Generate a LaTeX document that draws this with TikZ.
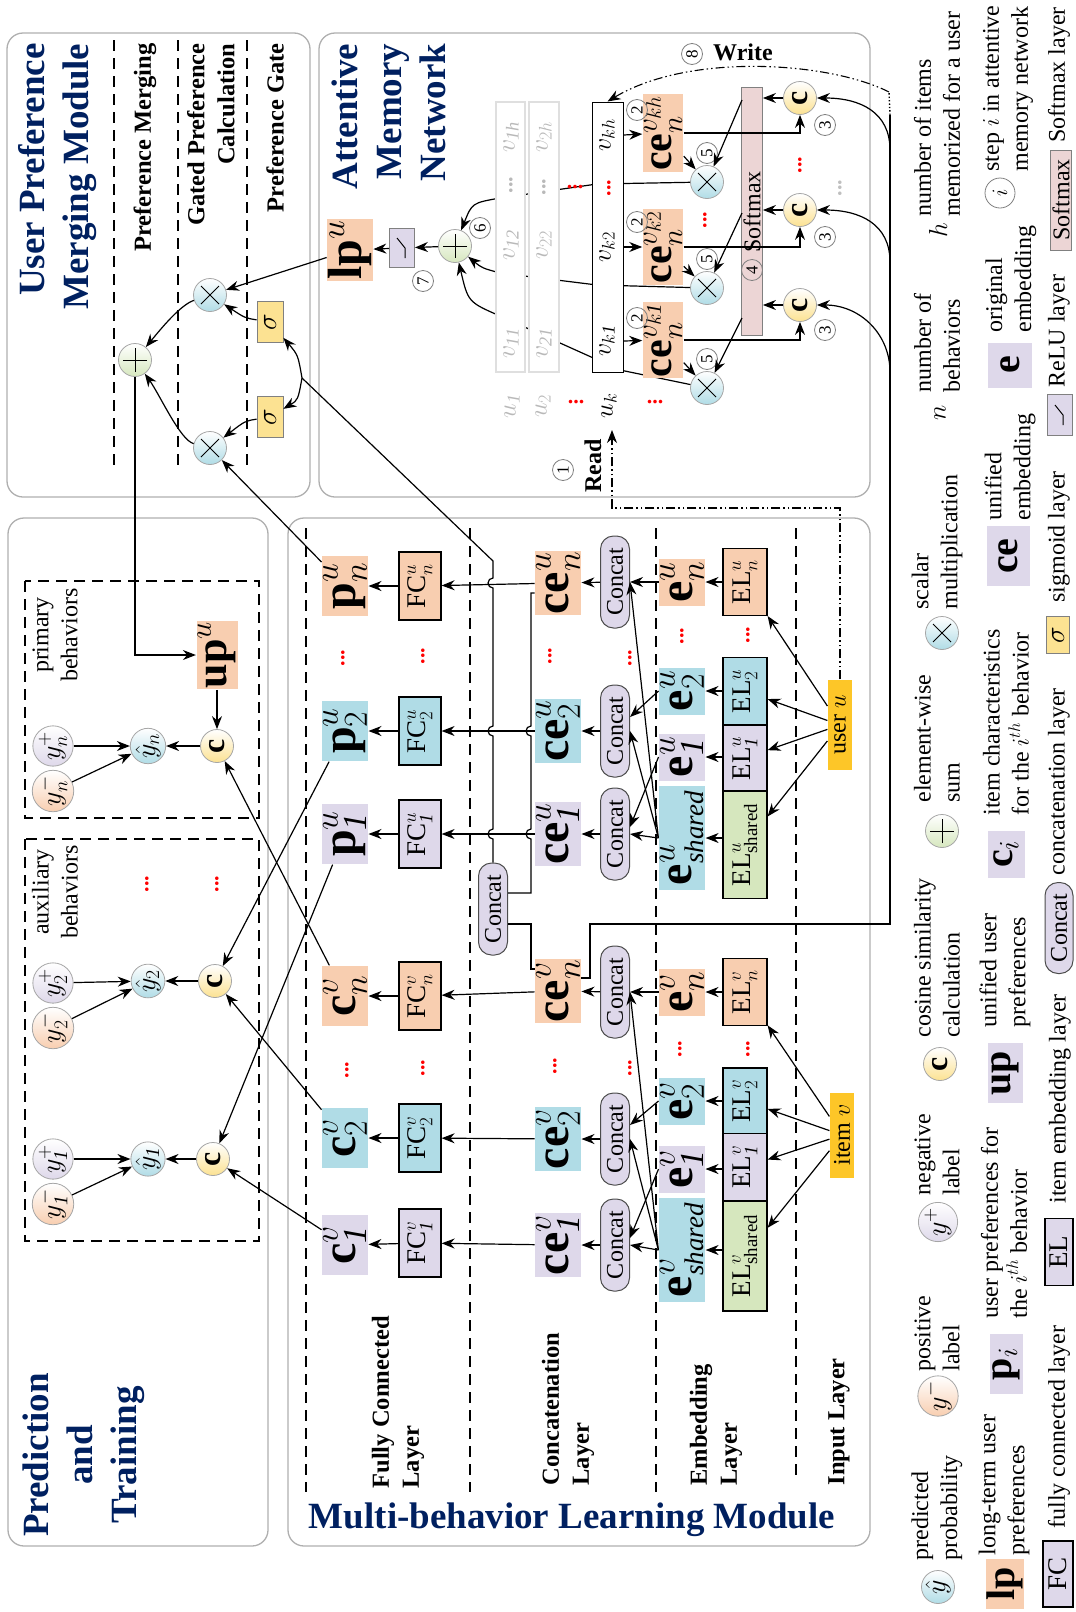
\RequirePackage{fix-cm}
\documentclass[tikz,border=0pt]{standalone}
\usepackage{fontspec}
\setmainfont{Liberation Serif}
\usetikzlibrary{arrows.meta}

\definecolor{navy}{RGB}{0,32,96}
\definecolor{peach}{RGB}{248,206,176}
\definecolor{aqua}{RGB}{176,220,230}
\definecolor{lilac}{RGB}{222,216,234}
\definecolor{leaf}{RGB}{214,231,190}
\definecolor{gold}{RGB}{253,198,40}
\definecolor{sand}{RGB}{252,226,146}
\definecolor{rose}{RGB}{236,213,213}
\definecolor{frame}{RGB}{175,175,175}

\newcommand{\titlefont}{\fontsize{37}{44}\selectfont\bfseries}
\newcommand{\layerfont}{\fontsize{24.5}{30}\selectfont\bfseries}
\newcommand{\vecfont}{\fontsize{48}{48}\selectfont}
\newcommand{\memvecfont}{\fontsize{42}{42}\selectfont}
\newcommand{\legvecfont}{\fontsize{40}{40}\selectfont}
\newcommand{\boxfont}{\fontsize{27}{27}\selectfont}
\newcommand{\legfont}{\fontsize{24}{29}\selectfont}
\newcommand{\midfont}{\fontsize{24}{24}\selectfont}
\newcommand{\numfont}{\fontsize{17}{17}\selectfont}
\newcommand{\sharedsub}{\mbox{\fontsize{27}{27}\selectfont\itshape shared}}

\begin{document}
\begin{tikzpicture}[x=1pt, y=-1pt, line width=1.2pt, >={Stealth[length=13pt,width=10pt]},
  every node/.style={rotate=90},
  upright/.style={rotate=-90},
  panel/.style={draw=frame, line width=1.3pt, rounded corners=16pt},
  layersep/.style={dash pattern=on 11pt off 7pt, line width=1.1pt},
  rwpath/.style={dash pattern=on 9pt off 3pt on 1.5pt off 3pt on 1.5pt off 3pt, line width=1.1pt},
  title/.style={font=\titlefont, text=navy, inner sep=0pt},
  laylab/.style={font=\layerfont, inner sep=0pt},
  grp/.style={font=\legfont, align=center, inner sep=0pt},
  leg/.style={font=\legfont, inner sep=0pt, anchor=west, align=left},
  vec/.style={fill=#1, inner sep=1pt, font=\vecfont, minimum width=60pt, minimum height=34pt},
  fcbox/.style={draw, line width=1.2pt, fill=#1, minimum width=68pt, minimum height=42pt, inner sep=1pt, font=\boxfont},
  ccat/.style={draw=black!70, line width=1pt, fill=lilac, rounded corners=13pt, minimum width=92pt, minimum height=29pt, inner sep=0pt, font=\midfont},
  sig/.style={draw=gray, line width=0.8pt, fill=sand, minimum width=41pt, minimum height=26pt, inner sep=0pt, font=\fontsize{28}{28}\selectfont},
  bubble/.style={circle, draw=gray!70, line width=0.8pt, inner sep=0pt, minimum size=33pt, top color=white, bottom color=#1, font=\fontsize{28}{28}\selectfont},
  cosnode/.style={bubble=sand, font=\fontsize{32}{32}\selectfont\bfseries},
  opmul/.style={bubble=aqua, path picture={\draw[black, line width=1pt] ([shift={(-9pt,-9pt)}]path picture bounding box.center) -- ++(18pt,18pt) ([shift={(-9pt,9pt)}]path picture bounding box.center) -- ++(18pt,-18pt);}},
  opadd/.style={bubble=leaf, path picture={\draw[black, line width=1pt] ([shift={(-12pt,0pt)}]path picture bounding box.center) -- ++(24pt,0pt) ([shift={(0pt,-12pt)}]path picture bounding box.center) -- ++(0pt,24pt);}},
  stepnum/.style={circle, draw=gray, line width=0.8pt, inner sep=0pt, minimum size=21pt, font=\numfont},
  memcol/.style={fill=white, minimum width=270pt, minimum height=29pt, inner sep=0pt},
  memlab/.style={font=\fontsize{26}{26}\selectfont, inner sep=0pt},
  inbox/.style={fill=gold, minimum height=24pt, inner sep=1pt, font=\midfont},
  reddot/.style={text=red, font=\fontsize{22}{22}\selectfont\bfseries, inner sep=0pt},
  relu/.style={draw=gray, line width=0.8pt, fill=lilac, minimum width=39pt, minimum height=25pt, inner sep=0pt},
  smaxbox/.style={draw=gray, line width=0.8pt, fill=rose, minimum height=21pt, inner sep=0pt}]

\useasboundingbox (0,0) rectangle (1076,1612);

% panels
\draw[panel] (7,33) rectangle (310,497);
\draw[panel] (319,33) rectangle (870,497);
\draw[panel] (8,518) rectangle (268,1546);
\draw[panel] (288,518) rectangle (870,1546);

%%% User Preference Merging Module
\node[title, align=right, anchor=east] (tupm) at (58,43) {User Preference\\Merging Module};
\foreach \x in {114,178,247} \draw[layersep] (\x,40) -- (\x,470);
\node[laylab, anchor=east] (lmerge) at (145,43) {Preference Merging};
\node[laylab, anchor=east, align=right] (lgated) at (211,43) {Gated Preference\\Calculation};
\node[laylab, anchor=east] (lgate) at (275,43) {Preference Gate};

\node[opadd] (addu) at (135,360) {};
\node[opmul] (mulu) at (210,295) {};
\node[opmul] (mull) at (210,448) {};
\node[sig] (sigu) at (270,322) {$\sigma$};
\node[sig] (sigl) at (270,417) {$\sigma$};
\coordinate (br) at (302,378);

\draw[->] (mulu) .. controls (180,305) and (160,330) .. (addu);
\draw[->] (mull) .. controls (180,440) and (160,395) .. (addu);
\draw[->] (sigu) .. controls (245,318) .. (mulu);
\draw[->] (sigl) .. controls (245,421) .. (mull);
\draw[->] (br) .. controls (298,355) .. (sigu);
\draw[->] (br) .. controls (298,400) .. (sigl);

%%% Attentive Memory Network
\node[title, align=right, anchor=east] (tamn) at (389,43) {Attentive\\Memory\\Network};
\node[vec=peach, minimum width=54pt, minimum height=44pt] (lpu) at (350,250) {\textbf{lp}$^{u}$};
\node[relu] (relu) at (402,248) {};
\draw[line width=1pt] ([shift={(3,10)}]relu.center) -- ++(0,-10) -- ++(-8,-10);
\node[opadd] (addm) at (455,246) {};
\node[stepnum] (s6) at (480,228) {6};
\node[stepnum] (s7) at (423,281) {7};

\node[opmul] (mulh) at (707,182) {};
\node[opmul] (mul2) at (707,288) {};
\node[opmul] (mul1) at (707,388) {};

% weighted memory slots to the sum
\draw[->] (mulh) -- (597,184) -- (500,198) .. controls (472,203) .. (addm);
\draw[->] (mul2) -- (597,285) -- (500,273) .. controls (482,268) .. (addm);
\draw[->] (mul1) -- (620,370) -- (500,316) .. controls (468,302) .. (addm);

\node[memcol, draw=gray!25] (col1) at (510.5,237) {};
\node[memcol, draw=gray!25, minimum height=30pt] (col2) at (544,237) {};
\node[memcol, draw=black, line width=1pt, minimum height=31pt] (colk) at (607.5,237) {};
\node[memlab, text=gray!55] (v11) at (511,343) {$v_{\mathit{11}}$};
\node[memlab, text=gray!55] (v12) at (511,245) {$v_{\mathit{12}}$};
\node[reddot, text=gray!55] (d1) at (511,185) {...};
\node[memlab, text=gray!55] (v1h) at (511,137) {$v_{\mathit{1h}}$};
\node[memlab, text=gray!55] (v21) at (544,343) {$v_{\mathit{21}}$};
\node[memlab, text=gray!55] (v22) at (544,245) {$v_{22}$};
\node[reddot, text=gray!55] (d2) at (544,187) {...};
\node[memlab, text=gray!55] (v2h) at (544,137) {$v_{2h}$};
\node[memlab] (vk1) at (607,341) {$v_{k\mathit{1}}$};
\node[memlab] (vk2) at (607,247) {$v_{k2}$};
\node[reddot] (dk) at (609,188) {...};
\node[memlab] (vkh) at (607,135) {$v_{kh}$};
\node[reddot, upright] (dc) at (575,187) {...};
\node[memlab, text=gray!55] (u1) at (512,406) {$u_{\mathit{1}}$};
\node[memlab, text=gray!55] (u2) at (543,406) {$u_{2}$};
\node[reddot, upright] (du) at (576,402) {...};
\node[memlab] (uk) at (609,406) {$u_{k}$};
\node[reddot, upright] (dm) at (655,402) {...};

\node[vec=peach, font=\memvecfont, minimum width=67pt, minimum height=30pt] (ceh) at (663,133) {\textbf{ce}$^{v_{kh}}_{n}$};
\node[vec=peach, font=\memvecfont, minimum width=67pt, minimum height=30pt] (ce2) at (663,247) {\textbf{ce}$^{v_{k2}}_{n}$};
\node[vec=peach, font=\memvecfont, minimum width=67pt, minimum height=30pt] (ce1) at (663,340) {\textbf{ce}$^{v_{k\mathit{1}}}_{n}$};
\node[stepnum] (s2h) at (637,110) {2};
\node[stepnum] (s22) at (637,222) {2};
\node[stepnum] (s21) at (637,318) {2};
\node[stepnum] (s5h) at (707,153) {5};
\node[stepnum] (s52) at (707,259) {5};
\node[stepnum] (s51) at (707,359) {5};
\node[reddot] (dmul) at (705,220) {...};

\node[smaxbox, minimum width=248pt] (smax) at (752,211) {};
\node[font=\midfont, inner sep=0pt] (smaxt) at (752,212) {Softmax};
\node[stepnum] (s4) at (752,270) {4};
\coordinate (sm3) at (742,100);
\coordinate (sm2) at (742,213);
\coordinate (sm1) at (742,318);

\node[cosnode] (cosh) at (800,98) {c};
\node[cosnode] (cos2) at (800,210) {c};
\node[cosnode] (cos1) at (800,305) {c};
\node[stepnum] (s3h) at (825,125) {3};
\node[stepnum] (s32) at (825,237) {3};
\node[stepnum] (s31) at (825,330) {3};
\node[reddot] (dcos) at (800,165) {...};
\node[reddot, text=gray!50] (dq) at (840,188) {...};

\draw[->] (vkh -| colk.south) -- (ceh);
\draw[->] (vk2 -| colk.south) -- (ce2);
\draw[->] (vk1 -| colk.south) -- (ce1);
\draw[->] (ceh) -- (mulh);
\draw[->] (ce2) -- (mul2);
\draw[->] (ce1) -- (mul1);
\draw[->] (sm3) -- (mulh);
\draw[->] (sm2) -- (mul2);
\draw[->] (sm1) -- (mul1);
\draw[->] (ceh) -| (cosh);
\draw[->] (ce2) -| (cos2);
\draw[->] (ce1) -| (cos1);
\draw[->] (cosh) -- (cosh -| smax.south);
\draw[->] (cos2) -- (cos2 -| smax.south);
\draw[->] (cos1) -- (cos1 -| smax.south);
\draw[->] (addm) -- (relu);
\draw[->] (relu) -- (lpu);
\draw[->] (lpu) -- (mulu);

% query line from the item side
\coordinate (qtop) at (890,115);
\coordinate (qbot) at (890,924);
\coordinate (q3) at (890,150);
\coordinate (q2) at (890,262);
\coordinate (q1) at (890,372);
\coordinate (wr) at (889,92);
\draw[->] (q3) .. controls (890,112) and (860,98) .. (cosh);
\draw[->] (q2) .. controls (890,224) and (860,210) .. (cos2);
\draw[->] (q1) .. controls (890,334) and (860,305) .. (cos1);
\draw[dotted, line width=1.4pt] (qtop) -- (wr);
\draw[->, rwpath] (wr) .. controls (830,62) and (690,52) .. (colk.east);
\node[stepnum] (s8) at (692,54) {8};
\node[upright, font=\midfont\bfseries, inner sep=0pt] (write) at (743,52) {Write};

%%% Prediction and Training
\draw[layersep] (25,581) rectangle (259,818);
\draw[layersep] (25,839) rectangle (259,1241);
\node[title, align=center] (tpt) at (84,1455) {Prediction\\and\\Training};
\node[grp] (lprim) at (55,635) {primary\\behaviors};
\node[grp] (laux) at (55,892) {auxiliary\\behaviors};

\node[bubble=lilac] (ypn) at (53,746) {$y^{+}_{n}$};
\node[bubble=peach] (ymn) at (53,791) {$y^{-}_{n}$};
\node[bubble=aqua] (yhn) at (148,746) {$\hat{y}_{n}$};
\node[cosnode] (cn) at (217,746) {c};
\node[vec=peach, font=\fontsize{44}{44}\selectfont, minimum height=41pt] (upu) at (217,655) {\textbf{up}$^{u}$};

\node[bubble=lilac] (yp2) at (53,983) {$y^{+}_{2}$};
\node[bubble=peach] (ym2) at (53,1028) {$y^{-}_{2}$};
\node[bubble=aqua] (yh2) at (148,981) {$\hat{y}_{2}$};
\node[cosnode] (c2) at (215,981) {c};
\node[reddot] (dy) at (147,884) {...};
\node[reddot] (dc2) at (217,884) {...};

\node[bubble=lilac] (yp1) at (53,1159) {$y^{+}_{\mathit{1}}$};
\node[bubble=peach] (ym1) at (53,1204) {$y^{-}_{\mathit{1}}$};
\node[bubble=aqua] (yh1) at (148,1159) {$\hat{y}_{\mathit{1}}$};
\node[cosnode] (c1) at (213,1159) {c};

\draw[->] (ypn) -- (yhn);
\draw[->] (ymn) -- (yhn);
\draw[->] (cn) -- (yhn);
\draw[->] (yp2) -- (yh2);
\draw[->] (ym2) -- (yh2);
\draw[->] (c2) -- (yh2);
\draw[->] (yp1) -- (yh1);
\draw[->] (ym1) -- (yh1);
\draw[->] (c1) -- (yh1);
\draw[->] (upu) -- (cn);
\draw[->] (addu) |- (upu);

%%% Multi-behavior Learning Module
\foreach \x in {306,470,656} \draw[layersep] (\x,528) -- (\x,1492);
\draw[layersep] (796,528) -- (796,1482);
\node[title, upright] (tmbl) at (572,1520) {Multi-behavior Learning Module};
\node[laylab, anchor=west, align=left] (lfcl) at (398,1489) {Fully Connected\\Layer};
\node[laylab, anchor=west, align=left] (lccl) at (568,1486) {Concatenation\\Layer};
\node[laylab, anchor=west, align=left] (lebl) at (716,1486) {Embedding\\Layer};
\node[laylab, anchor=west] (linl) at (839,1486) {Input Layer};

% fully connected outputs
\node[vec=peach] (pun) at (345,586) {\textbf{p}$^{u}_{n}$};
\node[vec=aqua] (pu2) at (345,731) {\textbf{p}$^{u}_{2}$};
\node[vec=lilac] (pu1) at (345,834) {\textbf{p}$^{u}_{\mathit{1}}$};
\node[vec=peach] (cvn) at (345,996) {\textbf{c}$^{v}_{n}$};
\node[vec=aqua] (cv2) at (345,1138) {\textbf{c}$^{v}_{2}$};
\node[vec=lilac] (cv1) at (345,1245) {\textbf{c}$^{v}_{\mathit{1}}$};
\node[reddot] (dp) at (343,658) {...};
\node[reddot] (dcv) at (347,1070) {...};

\node[fcbox=peach] (fcun) at (420,586) {FC$^{u}_{n}$};
\node[fcbox=aqua] (fcu2) at (420,731) {FC$^{u}_{2}$};
\node[fcbox=lilac] (fcu1) at (420,834) {FC$^{u}_{\mathit{1}}$};
\node[fcbox=peach] (fcvn) at (420,996) {FC$^{v}_{n}$};
\node[fcbox=aqua] (fcv2) at (420,1138) {FC$^{v}_{2}$};
\node[fcbox=lilac] (fcv1) at (420,1243) {FC$^{v}_{\mathit{1}}$};
\node[reddot] (dfu) at (423,656) {...};
\node[reddot] (dfv) at (423,1068) {...};

\node[vec=peach, minimum width=64pt, minimum height=37pt] (ceun) at (558,583) {\textbf{ce}$^{u}_{n}$};
\node[vec=aqua, minimum width=64pt, minimum height=37pt] (ceu2) at (558,731) {\textbf{ce}$^{u}_{2}$};
\node[vec=lilac, minimum width=64pt, minimum height=37pt] (ceu1) at (558,834) {\textbf{ce}$^{u}_{\mathit{1}}$};
\node[vec=peach, minimum width=64pt, minimum height=37pt] (cevn) at (558,991) {\textbf{ce}$^{v}_{n}$};
\node[vec=aqua, minimum width=64pt, minimum height=37pt] (cev2) at (558,1139) {\textbf{ce}$^{v}_{2}$};
\node[vec=lilac, minimum width=64pt, minimum height=37pt] (cev1) at (558,1245) {\textbf{ce}$^{v}_{\mathit{1}}$};
\node[reddot] (dceu) at (550,656) {...};
\node[reddot] (dcev) at (555,1066) {...};

\node[ccat] (ccun) at (615,582) {Concat};
\node[ccat] (ccu2) at (615,731) {Concat};
\node[ccat] (ccu1) at (615,834) {Concat};
\node[ccat] (ccvn) at (615,992) {Concat};
\node[ccat] (ccv2) at (615,1139) {Concat};
\node[ccat] (ccv1) at (615,1245) {Concat};
\node[ccat] (ccm) at (493,909) {Concat};
\node[reddot] (dccu) at (630,658) {...};
\node[reddot] (dccv) at (630,1068) {...};

\node[vec=peach, minimum width=47pt, minimum height=35pt] (eun) at (682,582) {\textbf{e}$^{u}_{n}$};
\node[vec=aqua, minimum width=47pt, minimum height=35pt] (eu2) at (682,691) {\textbf{e}$^{u}_{2}$};
\node[vec=lilac, minimum width=47pt, minimum height=35pt] (eu1) at (682,757) {\textbf{e}$^{u}_{\mathit{1}}$};
\node[vec=aqua, minimum width=104pt, minimum height=35pt] (eus) at (682,838) {\textbf{e}$^{u}_{\sharedsub}$};
\node[vec=peach, minimum width=47pt, minimum height=35pt] (evn) at (682,992) {\textbf{e}$^{v}_{n}$};
\node[vec=aqua, minimum width=47pt, minimum height=35pt] (ev2) at (682,1101) {\textbf{e}$^{v}_{2}$};
\node[vec=lilac, minimum width=47pt, minimum height=35pt] (ev1) at (682,1169) {\textbf{e}$^{v}_{\mathit{1}}$};
\node[vec=aqua, minimum width=104pt, minimum height=35pt] (evs) at (682,1250) {\textbf{e}$^{v}_{\sharedsub}$};
\node[reddot] (deu) at (682,636) {...};
\node[reddot] (dev) at (680,1049) {...};

\node[fcbox=peach, minimum width=67pt, minimum height=44pt] (elun) at (745,582) {EL$^{u}_{n}$};
\node[fcbox=aqua, minimum width=67pt, minimum height=44pt] (elu2) at (745,691) {EL$^{u}_{2}$};
\node[fcbox=lilac, minimum width=66pt, minimum height=44pt] (elu1) at (745,758) {EL$^{u}_{\mathit{1}}$};
\node[fcbox=leaf, minimum width=107pt, minimum height=44pt] (elus) at (745,845) {EL$^{u}_{\mathrm{shared}}$};
\node[fcbox=peach, minimum width=67pt, minimum height=44pt] (elvn) at (745,992) {EL$^{v}_{n}$};
\node[fcbox=aqua, minimum width=66pt, minimum height=44pt] (elv2) at (745,1101) {EL$^{v}_{2}$};
\node[fcbox=lilac, minimum width=67pt, minimum height=44pt] (elv1) at (745,1167) {EL$^{v}_{\mathit{1}}$};
\node[fcbox=leaf, minimum width=110pt, minimum height=44pt] (elvs) at (745,1256) {EL$^{v}_{\mathrm{shared}}$};
\node[reddot] (delu) at (748,635) {...};
\node[reddot] (delv) at (748,1049) {...};

\node[inbox, minimum width=90pt] (useru) at (840,725) {user $u$};
\node[inbox, minimum width=85pt] (itemv) at (842,1135) {item $v$};

% input to embedding
\foreach \t in {elun,elu2,elu1,elus} \draw[->] (useru) -- (\t);
\foreach \t in {elvn,elv2,elv1,elvs} \draw[->] (itemv) -- (\t);
\draw[->] (elun.north |- eun) -- (eun);
\draw[->] (elu2.north |- eu2) -- (eu2);
\draw[->] (elu1.north |- eu1) -- (eu1);
\draw[->] (elus.north |- eus) -- (eus);
\draw[->] (elvn.north |- evn) -- (evn);
\draw[->] (elv2.north |- ev2) -- (ev2);
\draw[->] (elv1.north |- ev1) -- (ev1);
\draw[->] (elvs.north |- evs) -- (evs);

% embedding to concatenation
\draw[->] (eun) -- (ccun);
\draw[->] (eus.north) -- (ccun.south);
\draw[->] (eus.north) -- (ccu2.south);
\draw[->] (eus.north) -- (ccu1.south);
\draw[->] (eu2.north) -- ([yshift=14pt]ccu2.south);
\draw[->] (eu1.north) -- ([yshift=7pt]ccu1.south);
\draw[->] (evn) -- (ccvn);
\draw[->] (evs.north) -- (ccvn.south);
\draw[->] (evs.north) -- (ccv2.south);
\draw[->] (evs.north) -- (ccv1.south);
\draw[->] (ev2.north) -- ([yshift=14pt]ccv2.south);
\draw[->] (ev1.north) -- ([yshift=7pt]ccv1.south);

\foreach \a/\b in {ccun/ceun,ccu2/ceu2,ccu1/ceu1,ccvn/cevn,ccv2/cev2,ccv1/cev1} \draw[->] (\a) -- (\b);
\foreach \a/\b in {ceun/fcun,ceu2/fcu2,ceu1/fcu1,cevn/fcvn,cev2/fcv2,cev1/fcv1} \draw[->] (\a) -- (\b);
\foreach \a/\b in {fcun/pun,fcu2/pu2,fcu1/pu1,fcvn/cvn,fcv2/cv2,fcv1/cv1} \draw[->] (\a) -- (\b);

% merged user/item embedding to the gates
\draw ([yshift=-10pt]ceun.north) -- (531,593) -- (531,726) arc[start angle=90, end angle=270, radius=5pt] -- (531,829) arc[start angle=90, end angle=270, radius=5pt] -- (531,893) -- ([yshift=16pt]ccm.south);
\draw ([yshift=22pt]cevn.north) -- (531,969) -- (531,924) -- ([yshift=-15pt]ccm.south);
\draw (ccm) -- (493,839) arc[start angle=270, end angle=90, radius=5pt] -- (493,736) arc[start angle=270, end angle=90, radius=5pt] -- (493,588) arc[start angle=270, end angle=90, radius=5pt] -- (493,561) -- (br);
\draw ([yshift=13pt]cevn.south) -- (590,978) |- (qbot) -- (qtop);

% read from memory
\coordinate (rd) at (612,430);
\draw[->, rwpath] (useru) -- (840,508) -- (612,508) -- (rd);
\node[font=\midfont\bfseries, inner sep=0pt] (read) at (593,466) {Read};
\node[stepnum] (s1) at (563,470) {1};

% predictions
\draw[->] (pun) -- (mull);
\draw[->] (cvn) -- (cn);
\draw[->] (pu2) -- (c2);
\draw[->] (cv2) -- (c2);
\draw[->] (pu1) -- (c1);
\draw[->] (cv1) -- (c1);

%%% legend
\node[bubble=aqua] (lgyh) at (938,1587) {$\hat{y}$};
\node[leg] (tgyh) at (937,1561) {predicted\\probability};
\node[bubble=peach] (lgym) at (938,1396) {$y^{-}$};
\node[leg] (tgym) at (937,1372) {positive\\label};
\node[bubble=lilac] (lgyp) at (938,1222) {$y^{+}$};
\node[leg] (tgyp) at (937,1196) {negative\\label};
\node[cosnode] (lgc) at (940,1064) {c};
\node[leg] (tgc) at (937,1038) {cosine similarity\\calculation};
\node[opadd] (lgadd) at (942,831) {};
\node[leg] (tgadd) at (937,803) {element-wise\\sum};
\node[opmul] (lgmul) at (942,633) {};
\node[leg] (tgmul) at (937,610) {scalar\\multiplication};
\node[memlab] (lgn) at (940,413) {$n$};
\node[leg] (tgn) at (937,393) {number of\\behaviors};
\node[memlab] (lgh) at (938,230) {$h$};
\node[leg] (tgh) at (937,217) {number of items\\memorized for a user};

\node[vec=peach, font=\legvecfont, minimum width=50pt, minimum height=36pt] (lglp) at (1005,1584) {\textbf{lp}};
\node[leg] (tglp) at (1004,1556) {long-term user\\preferences};
\node[vec=lilac, font=\legvecfont, minimum width=60pt, minimum height=33pt] (lgp) at (1006,1364) {\textbf{p}$_{i}$};
\node[leg] (tgp) at (1004,1319) {user preferences for\\the $i^{th}$ behavior};
\node[vec=lilac, font=\legvecfont, minimum width=60pt, minimum height=35pt] (lgup) at (1005,1073) {\textbf{up}};
\node[leg] (tgup) at (1005,1028) {unified user\\preferences};
\node[vec=lilac, font=\legvecfont, minimum width=47pt, minimum height=37pt] (lgci) at (1006,854) {\textbf{c}$_{i}$};
\node[leg] (tgci) at (1006,816) {item characteristics\\for the $i^{th}$ behavior};
\node[vec=lilac, font=\legvecfont, minimum width=60pt, minimum height=43pt] (lgce) at (1008,556) {\textbf{ce}};
\node[leg] (tgce) at (1010,521) {unified\\embedding};
\node[vec=lilac, font=\legvecfont, minimum width=45pt, minimum height=44pt] (lge) at (1010,365) {\textbf{e}};
\node[leg] (tge) at (1011,333) {original\\embedding};
\node[stepnum, minimum size=30pt, font=\fontsize{22}{22}\selectfont] (lgi) at (1000,193) {$i$};
\node[leg] (tgi) at (1008,172) {step $i$ in attentive\\memory network};

\node[fcbox=lilac, minimum width=66pt, minimum height=30pt] (lgfc) at (1058,1574) {FC};
\node[leg] (tgfc) at (1059,1529) {fully connected layer};
\node[fcbox=lilac, minimum width=67pt, minimum height=28pt] (lgel) at (1059,1252) {EL};
\node[leg] (tgel) at (1060,1204) {item embedding layer};
\node[ccat, minimum width=91pt, minimum height=28pt] (lgcc) at (1059,928) {Concat};
\node[leg] (tgcc) at (1059,876) {concatenation layer};
\node[sig, minimum width=37pt, minimum height=23pt] (lgsig) at (1058,635) {$\sigma$};
\node[leg] (tgsig) at (1059,603) {sigmoid layer};
\node[relu, minimum width=41pt] (lgrelu) at (1060,415) {};
\draw[line width=1pt] ([shift={(3,10)}]lgrelu.center) -- ++(0,-10) -- ++(-8,-10);
\node[leg] (tgrelu) at (1059,388) {ReLU layer};
\node[smaxbox, minimum width=100pt, font=\midfont] (lgsm) at (1061,200) {Softmax};
\node[leg] (tgsm) at (1059,143) {Softmax layer};

\end{tikzpicture}
\end{document}
